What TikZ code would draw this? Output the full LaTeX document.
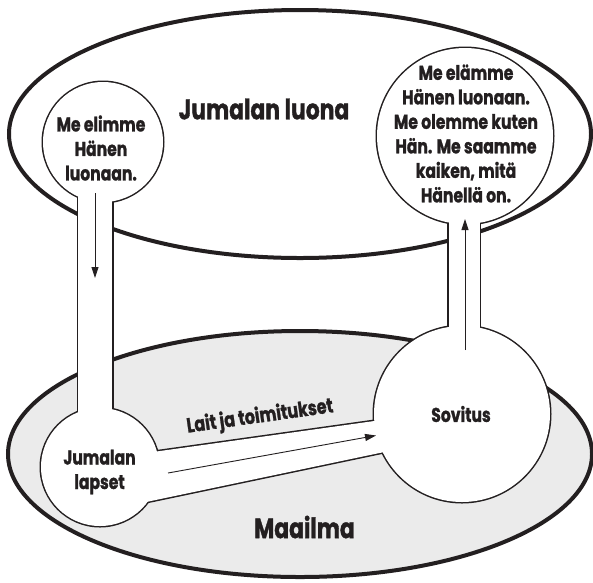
\documentclass[tikz,border=0pt]{standalone}
\usepackage{fontspec}
\setmainfont{Poppins}[FakeStretch=0.78, BoldFeatures={FakeBold=1.2}]
\usetikzlibrary{arrows.meta}
\definecolor{ink}{HTML}{231F20}
\definecolor{world}{HTML}{EBEBEB}
\newcommand\bubbleparts[1]{%
  \path[#1] (cA) circle[radius=60];
  \path[#1] (cB) circle[radius=88];
  \path[#1] (cC) circle[radius=59];
  \path[#1] (cD) circle[radius=88];
  \path[#1] (78,142) rectangle (112,467);
  \path[#1] (448.5,136) rectangle (479.5,414);
  \path[#1] (120,456.6) -- (420,414.6) -- (420,444.5) -- (120,507.5) -- cycle;}
\begin{document}
\begin{tikzpicture}[x=1pt,y=-1pt,
  txt/.style={font=\bfseries\fontsize{20}{24.5}\selectfont, text=ink, align=center, inner sep=0pt},
  big/.style={font=\bfseries\fontsize{28}{30}\selectfont, text=ink, inner sep=0pt},
  rim/.style={line width=4pt, draw=ink},
  edgeline/.style={line width=3pt, draw=ink},
  whitefill/.style={fill=white},
  flow/.style={line width=0.9pt, draw=ink, -{Triangle[length=11pt,width=7pt]}}]
\useasboundingbox (0,0) rectangle (593,582);
\coordinate (heaven) at (300,134);
\coordinate (earth) at (300,454);
\draw[rim, fill=white] (heaven) ellipse [x radius=291, y radius=124];
\draw[rim, fill=world] (earth) ellipse [x radius=292, y radius=123];
\coordinate (cA) at (103,142);
\coordinate (cB) at (465,136);
\coordinate (cC) at (100,467);
\coordinate (cD) at (462,414);
\bubbleparts{edgeline}
\bubbleparts{whitefill}
\coordinate (a1s) at (95,193);
\coordinate (a1e) at (95,278);
\coordinate (a2s) at (465,350);
\coordinate (a2e) at (465,219);
\coordinate (a3s) at (168,473);
\coordinate (a3e) at (376,435.5);
\draw[flow] (a1s) -- (a1e);
\draw[flow] (a2s) -- (a2e);
\draw[flow] (a3s) -- (a3e);
\node[txt] (tA) at (101,148) {Me elimme\\Hänen\\luonaan.};
\node[txt] (tB) at (466,133.5) {Me elämme\\Hänen luonaan.\\Me olemme kuten\\Hän. Me saamme\\kaiken, mitä\\Hänellä on.};
\node[txt] (tC) at (99.5,472) {Jumalan\\lapset};
\node[txt] (tD) at (461,414) {Sovitus};
\node[big] (tE) at (264,109) {Jumalan luona};
\node[big] (tF) at (304.5,527) {Maailma};
\node[txt, rotate=8, font=\bfseries\fontsize{20.5}{22}\selectfont] (tG) at (260,417) {Lait ja toimitukset};
\end{tikzpicture}
\end{document}
